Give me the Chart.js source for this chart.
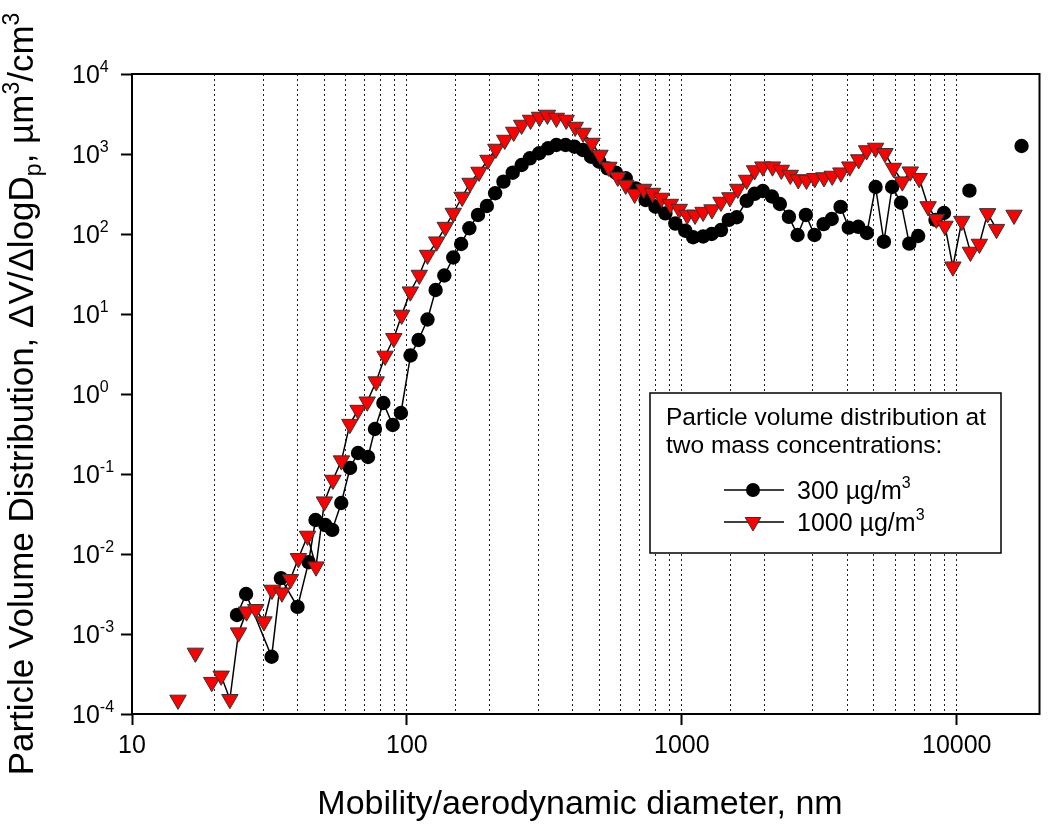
<!DOCTYPE html>
<html>
<head>
<meta charset="utf-8">
<script src="https://cdn.jsdelivr.net/npm/chart.js@4"></script>
<style>
  body { margin: 0; background: #fff; }
</style>
</head>
<body>
<canvas id="psd" width="1050" height="824"></canvas>
<script>
// 300 ug/m3 series (black circles)
const diam300 = [
  24.1, 26.0, 32.2, 34.8, 40.0, 43.9, 46.5, 50.5, 53.5, 57.7,
  62.1, 66.4, 72.2, 76.5, 82.1, 88.8, 95.1, 103.1, 110.2, 118.8,
  127.2, 136.8, 147.4, 157.5, 168.7, 181.4, 195.4, 209.4, 224.5, 242.6,
  261.4, 280.1, 302.8, 326.3, 349.6, 377.6, 406.9, 436.3, 467.5, 500.7,
  536.9, 575.3, 625.1, 679.2, 738.0, 802.0, 871.3, 946.8, 1029, 1099,
  1195, 1284, 1388, 1482, 1584, 1721, 1839, 1971, 2127, 2273,
  2452, 2636, 2826, 3038, 3278, 3510, 3780, 4048, 4385, 4712,
  5067, 5433, 5821, 6272, 6720, 7240, 8371, 8985, 11120, 17210
];
const vol300 = [
  1.73e-3, 3.16e-3, 5.2e-4, 5.0e-3, 2.18e-3, 7.9e-3, 0.0266, 0.023, 0.020, 0.0434,
  0.119, 0.183, 0.163, 0.365, 0.772, 0.41, 0.579, 3.03, 4.73, 8.53,
  19.95, 30.3, 50.8, 75.0, 118, 173, 224, 323, 451, 584,
  729, 883, 1021, 1178, 1296, 1296, 1233, 1122, 925, 801,
  662, 584, 497, 372, 266, 219, 181, 135, 110, 91,
  93, 100, 112, 150, 162, 260, 318, 345, 294, 237,
  164, 97.2, 173, 97.2, 133, 154, 218, 120, 123, 103,
  387, 80.1, 387, 246, 75.7, 94.4, 150, 183, 348, 1259
];
// 1000 ug/m3 series (red triangles)
const diam1000 = [
  14.7, 17.0, 19.5, 21.1, 22.7, 24.4, 26.1, 28.2, 30.2, 32.3,
  35.1, 37.7, 40.3, 43.5, 46.7, 50.1, 53.8, 57.8, 62.0, 66.4,
  71.7, 77.3, 83.3, 89.6, 95.7, 102.9, 110.9, 118.8, 128.3, 137.9,
  147.4, 158.8, 169.7, 182.9, 197.1, 210.6, 226.9, 244.6, 261.4, 281.7,
  303.5, 324.3, 349.6, 379.7, 409.3, 437.4, 471.3, 503.7, 542.7, 584.8,
  625.1, 673.6, 725.9, 782.2, 842.8, 908.2, 978.6, 1046, 1117, 1195,
  1287, 1388, 1495, 1597, 1721, 1839, 1971, 2136, 2301, 2480,
  2651, 2840, 3045, 3289, 3524, 3789, 4081, 4399, 4701, 5067,
  5482, 5884, 6339, 6775, 7301, 7867, 8427, 9060, 9681, 10430,
  11215, 12085, 12950, 13950, 16160
];
const vol1000 = [
  1.5e-4, 5.8e-4, 2.5e-4, 3.0e-4, 1.53e-4, 1.04e-3, 1.9e-3, 2.04e-3, 1.43e-3, 3.55e-3,
  3.28e-3, 4.83e-3, 8.83e-3, 0.0168, 6.94e-3, 0.0451, 0.0841, 0.147, 0.42, 0.63,
  0.80, 1.43, 2.99, 4.97, 9.72, 19.0, 30.7, 54.6, 80.1, 122,
  183, 290, 434, 596, 841, 1155, 1496, 1884, 2304, 2661,
  2900, 3073, 2818, 2661, 2175, 1830, 1372, 972, 688, 516,
  410, 316, 365, 325, 282, 237, 205, 173, 173, 188,
  202, 251, 286, 365, 473, 622, 694, 694, 631, 546,
  480, 473, 497, 508, 531, 584, 694, 853, 1106, 1189,
  1021, 668, 451, 601, 497, 221, 154, 126, 39.0, 145,
  59.6, 75.0, 181, 115, 173
];
// line is not drawn from point i to point i+1 (missing data)
const breaks300 = [75, 77, 78];
const breaks1000 = [0, 1, 93];

const xTickLabels = ['10', '100', '1000', '10000'];
const yDecades = [-4, -3, -2, -1, 0, 1, 2, 3, 4];
const legendTitle = ['Particle volume distribution at', 'two mass concentrations:'];
const seriesNames = ['300 µg/m', '1000 µg/m'];
const xTitle = 'Mobility/aerodynamic diameter, nm';

const FONT = "'Liberation Sans', Arial, sans-serif";

const isDecade = v => Math.abs(Math.log10(v) - Math.round(Math.log10(v))) < 1e-6;

function drawRuns(ctx, x, y, runs) {
  let cx = x;
  runs.forEach(r => {
    ctx.font = r.size + 'px ' + FONT;
    ctx.fillText(r.text, cx, y + (r.dy || 0));
    cx += ctx.measureText(r.text).width;
  });
  return cx - x;
}
function runsWidth(ctx, runs) {
  let w = 0;
  runs.forEach(r => { ctx.font = r.size + 'px ' + FONT; w += ctx.measureText(r.text).width; });
  return w;
}

function drawCircle(ctx, x, y, r) {
  ctx.beginPath();
  ctx.arc(x, y, r, 0, Math.PI * 2);
  ctx.fillStyle = '#000';
  ctx.fill();
}
function drawTriangle(ctx, x, y, r) {
  const w = r * Math.sqrt(3) / 2;
  ctx.beginPath();
  ctx.moveTo(x - w, y - r / 2);
  ctx.lineTo(x + w, y - r / 2);
  ctx.lineTo(x, y + r);
  ctx.closePath();
  ctx.fillStyle = '#ff0000';
  ctx.fill();
  ctx.strokeStyle = '#333';
  ctx.lineWidth = 1;
  ctx.stroke();
}

const decor = {
  id: 'decor',
  afterDraw(chart) {
    const { ctx, chartArea: a, scales } = chart;
    ctx.save();

    // plot frame
    ctx.strokeStyle = '#000';
    ctx.lineWidth = 2;
    ctx.strokeRect(a.left, a.top, a.right - a.left, a.bottom - a.top);

    ctx.fillStyle = '#000';
    ctx.textAlign = 'left';
    ctx.textBaseline = 'alphabetic';

    // y tick labels with exponents
    yDecades.forEach(k => {
      const y = scales.y.getPixelForValue(Math.pow(10, k));
      drawRuns(ctx, 72, y + 9, [
        { text: '10', size: 25 },
        { text: String(k), size: 16, dy: -11 }
      ]);
    });

    // y title
    const yRuns = [
      { text: 'Particle Volume Distribution, \u0394V/\u0394logD', size: 35 },
      { text: 'p', size: 23, dy: 8 },
      { text: ', \u00b5m', size: 35 },
      { text: '3', size: 23, dy: -14 },
      { text: '/cm', size: 35 },
      { text: '3', size: 23, dy: -14 }
    ];
    ctx.save();
    ctx.translate(33, (a.top + a.bottom) / 2);
    ctx.rotate(-Math.PI / 2);
    const w = runsWidth(ctx, yRuns);
    drawRuns(ctx, -w / 2, 0, yRuns);
    ctx.restore();

    // x title
    ctx.font = '34px ' + FONT;
    ctx.textAlign = 'center';
    ctx.fillText(xTitle, 580, 814);
    ctx.textAlign = 'left';

    // legend box
    ctx.fillStyle = '#fff';
    ctx.fillRect(650, 393, 351, 160);
    ctx.strokeStyle = '#000';
    ctx.lineWidth = 1.5;
    ctx.strokeRect(650, 393, 351, 160);
    ctx.fillStyle = '#000';
    ctx.font = '24.5px ' + FONT;
    ctx.fillText(legendTitle[0], 666, 425);
    ctx.fillText(legendTitle[1], 666, 453);

    [490, 522].forEach((ly, i) => {
      ctx.strokeStyle = '#000';
      ctx.lineWidth = 1.5;
      ctx.beginPath();
      ctx.moveTo(724, ly);
      ctx.lineTo(784, ly);
      ctx.stroke();
      if (i === 0) drawCircle(ctx, 753, ly, 7);
      else drawTriangle(ctx, 753, ly, 9);
      ctx.fillStyle = '#000';
      drawRuns(ctx, 797, ly + 9, [
        { text: seriesNames[i], size: 25 },
        { text: '3', size: 16, dy: -11 }
      ]);
    });

    ctx.restore();
  }
};

const toPoints = (xs, ys) => xs.map((d, i) => ({ x: d, y: ys[i] }));
const segColor = breaks => ctx => breaks.includes(ctx.p0DataIndex) ? 'transparent' : '#000';

new Chart(document.getElementById('psd'), {
  type: 'line',
  data: {
    datasets: [
      {
        label: '1000 µg/m3',
        data: toPoints(diam1000, vol1000),
        order: 0,
        borderColor: '#000',
        borderWidth: 1.5,
        segment: { borderColor: segColor(breaks1000) },
        pointStyle: 'triangle',
        pointRotation: 180,
        pointRadius: 9.5,
        pointBackgroundColor: '#ff0000',
        pointBorderColor: '#333',
        pointBorderWidth: 1
      },
      {
        label: '300 µg/m3',
        data: toPoints(diam300, vol300),
        order: 1,
        borderColor: '#000',
        borderWidth: 1.5,
        segment: { borderColor: segColor(breaks300) },
        pointStyle: 'circle',
        pointRadius: 7.2,
        pointBackgroundColor: '#000',
        pointBorderColor: '#000',
        pointBorderWidth: 0
      }
    ]
  },
  options: {
    responsive: false,
    animation: false,
    events: [],
    layout: { padding: { top: 74, right: 4, left: 0, bottom: 0 } },
    plugins: { legend: { display: false }, tooltip: { enabled: false } },
    scales: {
      x: {
        type: 'logarithmic',
        min: 10,
        max: 20000,
        afterFit: s => { s.height = 110; },
        border: { display: false, dash: [2, 3] },
        grid: {
          color: c => (c.tick && (c.tick.value <= 10 || c.tick.value > 10000)) ? 'transparent' : '#222',
          lineWidth: 1,
          tickLength: 11,
          tickWidth: 2,
          tickColor: c => (c.tick && isDecade(c.tick.value) && c.tick.value < 20000) ? '#000' : 'transparent'
        },
        ticks: {
          autoSkip: false,
          maxRotation: 0,
          padding: 6,
          color: '#000',
          font: { family: FONT, size: 25 },
          callback: v => {
            const lbl = String(Math.round(v));
            return xTickLabels.includes(lbl) ? lbl : '';
          }
        }
      },
      y: {
        type: 'logarithmic',
        min: 1e-4,
        max: 1e4,
        afterFit: s => { s.width = 132; },
        border: { display: false },
        grid: {
          color: 'transparent',
          tickLength: 11,
          tickWidth: 2,
          tickColor: c => (c.tick && isDecade(c.tick.value)) ? '#000' : 'transparent'
        },
        ticks: { display: false, autoSkip: false }
      }
    }
  },
  plugins: [decor]
});
</script>
</body>
</html>
